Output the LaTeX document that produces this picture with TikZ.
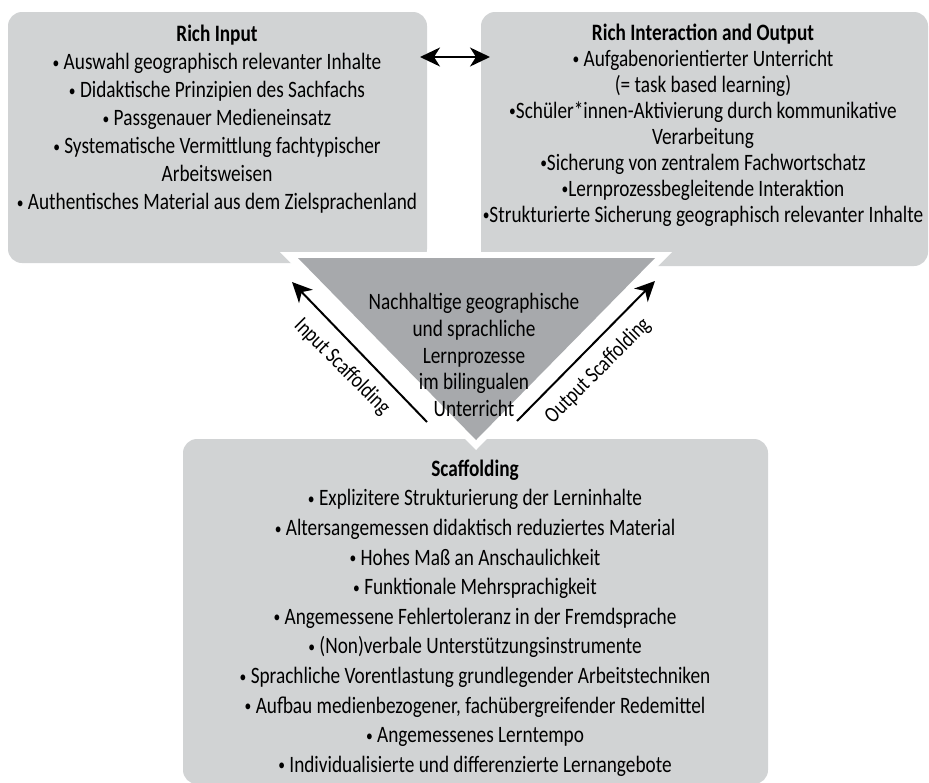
\documentclass[tikz,border=0pt]{standalone}
\usepackage{fontspec}
\setmainfont{Carlito}[FakeStretch=0.82]
\usetikzlibrary{arrows.meta}
\definecolor{boxgrey}{HTML}{D1D3D4}
\definecolor{coregrey}{HTML}{A7A9AC}
% small list bullet
\newcommand{\bul}{\raisebox{0.12ex}{\scalebox{0.7}{•}}}
\begin{document}
\begin{tikzpicture}[x=1pt,y=-1pt,
  panel/.style={fill=boxgrey, draw=none, rounded corners=14pt, inner sep=0pt, outer sep=0pt, anchor=north west},
  body/.style={align=center, inner sep=0pt, text=black},
  wide/.style={font=\fontsize{23.5}{28}\selectfont},
  tight/.style={font=\fontsize{23.5}{26}\selectfont},
  mid/.style={font=\fontsize{23.5}{26.7}\selectfont},
  loose/.style={font=\fontsize{23.5}{29.6}\selectfont},
  tip/.tip={Stealth[length=20pt,width=19pt,inset=6pt]},
  link/.style={line width=2pt, -tip},
  twoway/.style={line width=2pt, tip-tip},
  tag/.style={inner sep=0pt, font=\fontsize{22.5}{26}\selectfont}
]
\useasboundingbox (0,0) rectangle (929,782);

% three panels
\node[panel, minimum width=419pt, minimum height=251pt] (input) at (8,12) {};
\node[panel, minimum width=447pt, minimum height=254pt] (output) at (481,12) {};
\node[panel, minimum width=585pt, minimum height=345pt] (scaff) at (183,439) {};

% central triangle with its white rim
\fill[white] (280,252) -- (672,252) -- (476,450) -- cycle;
\fill[coregrey] (298,258) -- (655,258) -- (476,440) -- cycle;

% panel texts
\node[body, wide] (inputtxt) at (217,119) {\textbf{Rich Input}\\
\bul{} Auswahl geographisch relevanter Inhalte\\
\bul{} Didaktische Prinzipien des Sachfachs\\
\bul{} Passgenauer Medieneinsatz\\
\bul{} Systematische Vermittlung fachtypischer\\
Arbeitsweisen\\
\bul{} Authentisches Material aus dem Zielsprachenland};

\node[body, tight] (outputtxt) at (703,125) {\textbf{Rich Interaction and Output}\\
\bul{} Aufgabenorientierter Unterricht\\
(= task based learning)\\
\bul Schüler*innen-Aktivierung durch kommunikative\\
Verarbeitung\\
\bul Sicherung von zentralem Fachwortschatz\\
\bul Lernprozessbegleitende Interaktion\\
\bul Strukturierte Sicherung geographisch relevanter Inhalte};

\node[body, mid] (core) at (474,355) {Nachhaltige geographische\\
und sprachliche\\
Lernprozesse\\
im bilingualen\\
Unterricht};

\node[body, loose] (scafftxt) at (475,618) {\textbf{Scaffolding}\\
\bul{} Explizitere Strukturierung der Lerninhalte\\
\bul{} Altersangemessen didaktisch reduziertes Material\\
\bul{} Hohes Maß an Anschaulichkeit\\
\bul{} Funktionale Mehrsprachigkeit\\
\bul{} Angemessene Fehlertoleranz in der Fremdsprache\\
\bul{} (Non)verbale Unterstützungsinstrumente\\
\bul{} Sprachliche Vorentlastung grundlegender Arbeitstechniken\\
\bul{} Aufbau medienbezogener, fachübergreifender Redemittel\\
\bul{} Angemessenes Lerntempo\\
\bul{} Individualisierte und differenzierte Lernangebote};

% arrow between the two upper panels
\coordinate (ia) at ([shift={(-7,45)}]input.north east);
\coordinate (ib) at ([shift={(9,45)}]output.north west);
\draw[twoway] (ia) -- (ib);

% scaffolding arrows from the lower panel up to the upper panels
\coordinate (inbase) at (427,422);
\coordinate (intip) at (292,282);
\coordinate (outbase) at (517,421);
\coordinate (outtip) at (655,281);
\draw[link] (inbase) -- (intip);
\draw[link] (outbase) -- (outtip);

\node[tag, rotate=-45] (inlabel) at (342,367) {Input Scaffolding};
\node[tag, rotate=45] (outlabel) at (598,371) {Output Scaffolding};
\end{tikzpicture}
\end{document}
